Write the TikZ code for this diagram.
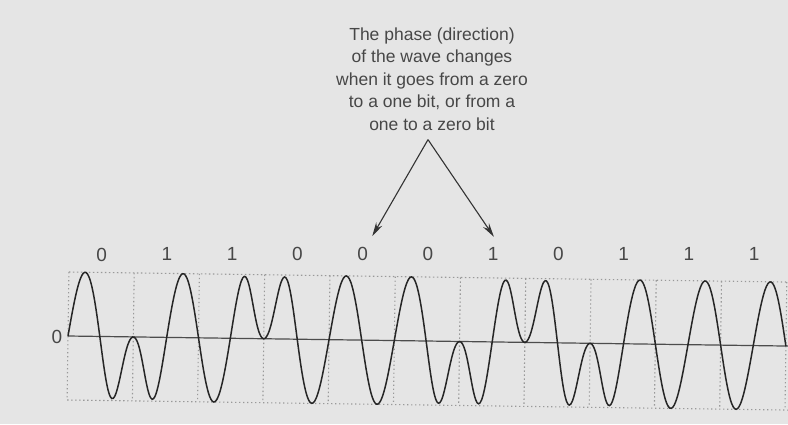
\documentclass[tikz,border=0pt]{standalone}
\usepackage{fontspec}
\setmainfont{Liberation Sans}
\usetikzlibrary{arrows.meta,calc}
\tikzstyle{note} = [align=center, font=\fontsize{17.5}{22.5}\selectfont, text=black!72, inner sep=0pt]
\tikzstyle{bit} = [font=\fontsize{19}{19}\selectfont, text=black!72, inner sep=0pt]
\tikzstyle{gridline} = [black!40, line width=1.1pt, dash pattern=on 1.4pt off 2.6pt]
\tikzstyle{zeroline} = [black!70, line width=1.2pt]
\tikzstyle{wave} = [black!85, line width=1.5pt]
\tikzstyle{arrow} = [black!80, line width=1.1pt, -{Stealth[length=14pt,width=7pt]}, shorten >=13pt]

\begin{document}
\begin{tikzpicture}[x=1pt, y=-1pt, node distance=65.27pt,
    declare function={
        sg(\va,\vb)=tanh(max(-4,min(4,(\va-\vb)/8)));
        wp(\va,\vb)=(\va-\vb)*exp(-min(12,((\va-\vb)/20)^2));
        ph(\va)=\va-0.4*(wp(\va,133.27)+wp(\va,263.81)+wp(\va,459.62)+wp(\va,524.89)+wp(\va,590.16));
        wave(\va)=336-64*sin(5.5156*(\va-68))*(-sg(\va,133.27)+sg(\va,263.81)-sg(\va,459.62)+sg(\va,524.89)-sg(\va,590.16));}]
    \fill[black!10] (0,0) rectangle (788,424);
    \useasboundingbox (0,0) rectangle (788,424);
    \clip (0,0) rectangle (788,424);
    \node (note)[note] at (432,79){The phase (direction)\\of the wave changes\\when it goes from a zero\\to a one bit, or from a\\one to a zero bit};
    \coordinate (apex) at ($(note.south)+(-4,9)$);
    \begin{scope}[rotate around={-0.8:(68,336)}]
    \draw[gridline] (68,272) -- (790,272) (68,400) -- (790,400);
    \draw[gridline] (68,272) -- (68,400) (133.3,272) -- (133.3,400) (198.5,272) -- (198.5,400)
        (263.8,272) -- (263.8,400) (329.1,272) -- (329.1,400) (394.4,272) -- (394.4,400)
        (459.6,272) -- (459.6,400) (524.9,272) -- (524.9,400) (590.2,272) -- (590.2,400)
        (655.4,272) -- (655.4,400) (720.7,272) -- (720.7,400) (786,272) -- (786,400);
    \draw[zeroline] (68,336) -- (795,336);
    \node (zero)[bit] at (57,337){0};
    \draw[wave] plot[domain=68:786, samples=500, smooth] (\x, {wave(ph(\x))});
    \node (b1)[bit] at (100.6,254){0};
    \node (b2)[bit, right of=b1]{1};
    \node (b3)[bit, right of=b2]{1};
    \node (b4)[bit, right of=b3]{0};
    \node (b5)[bit, right of=b4]{0};
    \node (b6)[bit, right of=b5]{0};
    \node (b7)[bit, right of=b6]{1};
    \node (b8)[bit, right of=b7]{0};
    \node (b9)[bit, right of=b8]{1};
    \node (b10)[bit, right of=b9]{1};
    \node (b11)[bit, right of=b10]{1};
    \end{scope}
    \draw[arrow] (apex) -- ([xshift=3pt]b5.north);
    \draw[arrow] (apex) -- ([xshift=8pt]b7.north);
\end{tikzpicture}
\end{document}
